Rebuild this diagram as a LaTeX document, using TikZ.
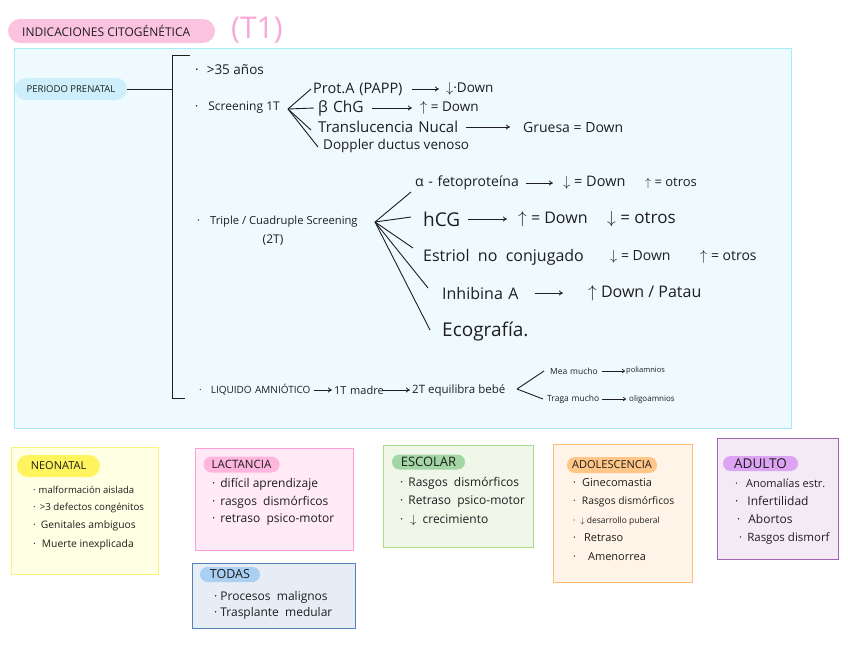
\documentclass[tikz,border=0pt]{standalone}
\usepackage{fontspec}
\setmainfont{Open Sans}
\usetikzlibrary{arrows.meta}
\newcommand{\fsz}[1]{\fontsize{#1}{#1}\selectfont}
\newcommand{\bul}[1]{·\hspace{#1pt}}
\definecolor{ink}{HTML}{1E1E1E}
\definecolor{titlepill}{HTML}{FBC3E0}
\definecolor{tone}{HTML}{F9A8D6}
\definecolor{mainfill}{HTML}{EEFAFE}
\definecolor{mainline}{HTML}{A5EBF9}
\definecolor{pppill}{HTML}{CDEFFB}
\definecolor{neofill}{HTML}{FFFFE3}\definecolor{neoline}{HTML}{FFF27C}\definecolor{neopill}{HTML}{FFF35E}
\definecolor{lacfill}{HTML}{FFEAF6}\definecolor{lacline}{HTML}{FF9FD6}\definecolor{lacpill}{HTML}{FFB6DE}
\definecolor{todfill}{HTML}{E7EDF6}\definecolor{todline}{HTML}{5480B8}\definecolor{todpill}{HTML}{A9CFF2}
\definecolor{escfill}{HTML}{F0F7E9}\definecolor{escline}{HTML}{A9DC86}\definecolor{escpill}{HTML}{A2D6A4}
\definecolor{adofill}{HTML}{FFF4E7}\definecolor{adoline}{HTML}{FFBC72}\definecolor{adopill}{HTML}{FFC688}
\definecolor{adufill}{HTML}{F4EAF6}\definecolor{aduline}{HTML}{A064B4}\definecolor{adupill}{HTML}{DCA4F2}
\begin{document}
\begin{tikzpicture}[x=1pt,y=-1pt,
  txt/.style={anchor=west,inner sep=0pt,text=ink},
  tw/.style={text width=#1pt,align=left},
  ln/.style={draw=ink,line width=0.9pt},
  arr/.style={draw=ink,line width=0.8pt,-{To[length=4pt,width=5pt]}},
  card/.style={anchor=north west,line width=1.4pt,inner sep=0pt},
  pillbox/.style={rounded corners=7pt,inner sep=0pt,text=ink},
]
\useasboundingbox (0,0) rectangle (848,656);
\fill[white] (0,0) rectangle (848,656);

% title
\node[pillbox,fill=titlepill,minimum width=207,minimum height=24,rounded corners=12pt] (title) at (111.5,31) {};
\node[txt,font=\fsz{12}] (titletext) at (22,31) {INDICACIONES CITOGÉNÉTICA};
\node[txt,text=tone,font=\fsz{30}] (tone) at (231,30) {(T1)};

% main box
\node[card,draw=mainline,fill=mainfill,minimum width=777,minimum height=380] (mainbox) at (14,48) {};
\node[pillbox,fill=pppill,minimum width=112,minimum height=22,rounded corners=11pt,font=\fsz{9.5}] (pp) at (71,89) {PERIODO PRENATAL};

% bracket
\coordinate (brT) at (172,55);
\coordinate (brM) at (172,89);
\coordinate (brB) at (172,398);
\coordinate (brTe) at (190,55);
\coordinate (brBe) at (185,398);
\draw[ln] (pp.east) -- (brM);
\draw[ln] (brTe) -- (brT) -- (brB) -- (brBe);

% >35
\node[txt,font=\fsz{13.5}] (edad) at (195,70) {\bul{8}>35 años};

% screening 1T
\node[txt,font=\fsz{12}] (s1) at (195,108) {\bul{10}Screening 1T};
\coordinate (f1) at (288,109);
\node[txt,tw=95,font=\fsz{14.5}] (pa) at (313,89) {\mbox{Prot.A (PAPP)}};
\node[txt,font=\fsz{13.5}] (pad) at (446,89) {$\downarrow$·Down};
\node[txt,tw=47,font=\fsz{15.5}] (bc) at (318,108) {\mbox{β ChG}};
\node[txt,font=\fsz{13.5}] (bcd) at (420,108) {$\uparrow$ = Down};
\node[txt,tw=142,font=\fsz{15}] (tn) at (318,127) {\mbox{Translucencia Nucal}};
\node[txt,font=\fsz{14}] (tnd) at (523,127) {Gruesa = Down};
\node[txt,font=\fsz{13.5}] (dp) at (323,146) {Doppler ductus venoso};
\draw[ln] (f1) -- ([xshift=-2pt]pa.west);
\draw[ln] (f1) -- ([xshift=-4pt]bc.west);
\draw[ln] (f1) -- ([xshift=-7pt,yshift=-3pt]tn.west);
\draw[ln] (f1) -- ([xshift=-5pt,yshift=-1pt]dp.west);
\draw[arr,shorten <=4pt,shorten >=7pt] (pa.east) -- (pad.west);
\draw[arr,shorten <=7pt,shorten >=8pt] (bc.east) -- (bcd.west);
\draw[arr,shorten <=6pt,shorten >=13pt] (tn.east) -- (tnd.west);

% triple / cuadruple
\node[txt,font=\fsz{11.2}] (s2) at (197,222) {\bul{10}Triple / Cuadruple Screening};
\node[inner sep=0pt,text=ink,font=\fsz{12}] (s2b) at (273,240) {(2T)};
\coordinate (f2) at (375,222);
\node[txt,tw=105,font=\fsz{14}] (af) at (415,183) {\mbox{α - fetoproteína}};
\node[txt,font=\fsz{14.5}] (afd) at (563,183) {$\downarrow$ = Down};
\node[txt,font=\fsz{13}] (afo) at (645,183) {$\uparrow$ = otros};
\node[txt,tw=37,font=\fsz{19}] (hcg) at (423,219) {\mbox{hCG}};
\node[txt,font=\fsz{16}] (hcgd) at (518,219) {$\uparrow$ = Down};
\node[txt,font=\fsz{17}] (hcgo) at (607,219) {$\downarrow$ = otros};
\node[txt,font=\fsz{16}] (es) at (423,257) {Estriol \ no \ conjugado};
\node[txt,font=\fsz{14}] (esd) at (610,257) {$\downarrow$ = Down};
\node[txt,font=\fsz{14}] (eso) at (700,257) {$\uparrow$ = otros};
\node[txt,tw=76,font=\fsz{16}] (ih) at (442,293) {\mbox{Inhibina A}};
\node[txt,font=\fsz{16}] (ihd) at (588,293) {$\uparrow$ Down / Patau};
\node[txt,font=\fsz{19}] (eco) at (442,331) {Ecografía.};
\draw[ln] (f2) -- ([xshift=-4pt,yshift=-9pt]af.west);
\draw[ln] (f2) -- ([xshift=-12pt,yshift=2pt]hcg.west);
\draw[ln] (f2) -- ([xshift=-10pt,yshift=9pt]es.west);
\draw[ln] (f2) -- ([xshift=-14pt,yshift=5pt]ih.west);
\draw[ln] (f2) -- ([xshift=-12pt,yshift=1pt]eco.west);
\draw[arr,shorten <=6pt,shorten >=10pt] (af.east) -- (afd.west);
\draw[arr,shorten <=8pt,shorten >=11pt] (hcg.east) -- (hcgd.west);
\draw[arr,shorten <=17pt,shorten >=25pt] (ih.east) -- (ihd.west);

% liquido amniotico
\node[txt,tw=113,font=\fsz{10}] (la) at (199,390) {\mbox{\bul{9}LIQUIDO AMNIÓTICO}};
\node[txt,tw=46,font=\fsz{11}] (la1) at (334,390) {\mbox{1T madre}};
\node[txt,font=\fsz{11.5}] (la2) at (412,390) {2T equilibra bebé};
\draw[arr,shorten <=2pt,shorten >=2pt] (la.east) -- (la1.west);
\draw[arr,shorten <=3pt,shorten >=2pt] (la1.east) -- (la2.west);
\coordinate (f3) at (517,389);
\node[txt,tw=50,font=\fsz{8.5}] (mea) at (550,371) {\mbox{Mea mucho}};
\node[txt,font=\fsz{7.5}] (meap) at (626,371) {poliamnios};
\node[txt,tw=53,font=\fsz{8.5}] (tra) at (547,399) {\mbox{Traga mucho}};
\node[txt,font=\fsz{8}] (trao) at (629,399) {oligoamnios};
\draw[ln] (f3) -- ([xshift=-6pt]mea.west);
\draw[ln] (f3) -- ([xshift=-4pt]tra.west);
\draw[draw=ink,line width=0.7pt,-{To[length=3pt,width=4pt]},shorten <=2pt,shorten >=1pt] (mea.east) -- (meap.west);
\draw[draw=ink,line width=0.7pt,-{To[length=3pt,width=4pt]},shorten <=2pt,shorten >=3pt] (tra.east) -- (trao.west);

% NEONATAL
\node[card,draw=neoline,fill=neofill,minimum width=147,minimum height=127] (neobox) at (11,447) {};
\node[pillbox,fill=neopill,minimum width=83,minimum height=22,rounded corners=11pt,font=\fsz{11}] (neo) at (58.5,466) {NEONATAL};
\node[txt,font=\fsz{9.5}] (neo1) at (33,490) {\bul{3}malformación aislada};
\node[txt,font=\fsz{9.7}] (neo2) at (33,508) {\bul{4}>3 defectos congénitos};
\node[txt,font=\fsz{10.3}] (neo3) at (33,526) {\bul{5}Genitales ambiguos};
\node[txt,font=\fsz{10.3}] (neo4) at (33,545) {\bul{6}Muerte inexplicada};

% LACTANCIA
\node[card,draw=lacline,fill=lacfill,minimum width=158,minimum height=102] (lacbox) at (195,448) {};
\node[pillbox,fill=lacpill,minimum width=76,minimum height=16,rounded corners=8pt,font=\fsz{11.5}] (lac) at (241.5,464.5) {LACTANCIA};
\node[txt,font=\fsz{12}] (lac1) at (212,484) {\bul{5}difícil aprendizaje};
\node[txt,font=\fsz{12}] (lac2) at (212,502) {\bul{5}rasgos \ dismórficos};
\node[txt,font=\fsz{12}] (lac3) at (212,520) {\bul{5}retraso \ psico-motor};

% TODAS
\node[card,draw=todline,fill=todfill,minimum width=163,minimum height=65] (todbox) at (192,563) {};
\node[pillbox,fill=todpill,minimum width=60,minimum height=15,rounded corners=7.5pt,font=\fsz{12.5}] (tod) at (230,574.5) {TODAS};
\node[txt,font=\fsz{12}] (tod1) at (214,597) {\bul{3}Procesos \ malignos};
\node[txt,font=\fsz{12}] (tod2) at (214,613) {\bul{3}Trasplante \ medular};

% ESCOLAR
\node[card,draw=escline,fill=escfill,minimum width=150,minimum height=102] (escbox) at (383,445) {};
\node[pillbox,fill=escpill,minimum width=73,minimum height=15,rounded corners=7.5pt,font=\fsz{13}] (esc) at (428.5,462) {ESCOLAR};
\node[txt,font=\fsz{12}] (esc1) at (400,483) {\bul{5}Rasgos \ dismórficos};
\node[txt,font=\fsz{12}] (esc2) at (400,502) {\bul{5}Retraso \ psico-motor};
\node[txt,font=\fsz{12}] (esc3) at (400,520) {\bul{7}$\downarrow$ \ crecimiento};

% ADOLESCENCIA
\node[card,draw=adoline,fill=adofill,minimum width=139,minimum height=138] (adobox) at (553,444) {};
\node[pillbox,fill=adopill,minimum width=90,minimum height=16,rounded corners=8pt,font=\fsz{11}] (ado) at (612,465) {ADOLESCENCIA};
\node[txt,font=\fsz{11}] (ado1) at (573,483) {\bul{6}Ginecomastia};
\node[txt,font=\fsz{10.3}] (ado2) at (573,502) {\bul{6}Rasgos dismórficos};
\node[txt,font=\fsz{8.5}] (ado3) at (573,521) {\bul{5}$\downarrow$ desarrollo puberal};
\node[txt,font=\fsz{11}] (ado4) at (573,538) {\bul{8}Retraso};
\node[txt,font=\fsz{11}] (ado5) at (573,557) {\bul{12}Amenorrea};

% ADULTO
\node[card,draw=aduline,fill=adufill,minimum width=121,minimum height=121] (adubox) at (717,438) {};
\node[pillbox,fill=adupill,minimum width=75,minimum height=15,rounded corners=7.5pt,font=\fsz{13.5}] (adu) at (760.5,463.5) {ADULTO};
\node[txt,font=\fsz{11}] (adu1) at (735,483) {\bul{8}Anomalías estr.};
\node[txt,font=\fsz{12}] (adu2) at (735,501) {\bul{9}Infertilidad};
\node[txt,font=\fsz{12}] (adu3) at (737,519) {\bul{8}Abortos};
\node[txt,font=\fsz{11.5}] (adu4) at (739,538) {\bul{5}Rasgos dismorf};
\end{tikzpicture}
\end{document}
